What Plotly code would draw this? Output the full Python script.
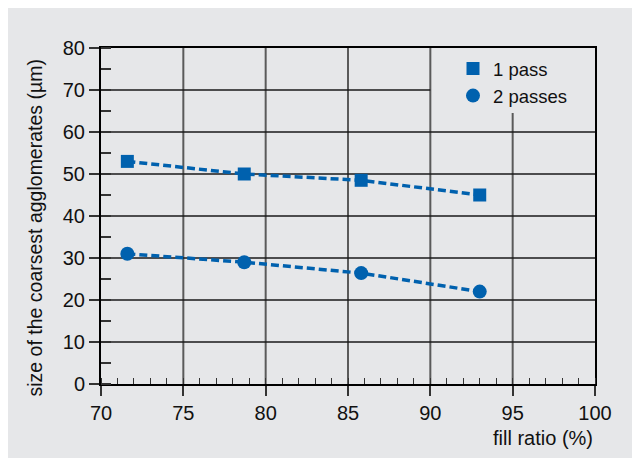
import plotly.graph_objects as go

# ---- data ----
fill_ratio = [71.6, 78.7, 85.8, 93.0]
one_pass = [53.0, 50.0, 48.5, 45.0]
two_passes = [31.0, 29.0, 26.4, 22.0]
x_ticks = [70, 75, 80, 85, 90, 95, 100]
y_ticks = [0, 10, 20, 30, 40, 50, 60, 70, 80]
series_names = ["1 pass", "2 passes"]

BLUE = "#0061ae"
BG = "#e6e7e9"
FONT = "Liberation Sans, Arial, sans-serif"
FS = 20

W, H = 640, 458
L, T = 93, 40
R = W - 587
B = H - 376
pw, ph = W - L - R, H - T - B


def px(x):
    return (x - L) / pw


def py(y):
    return (H - B - y) / ph


fig = go.Figure()
for yvals, name, sym, size in [(one_pass, series_names[0], "square", 13),
                               (two_passes, series_names[1], "circle", 14)]:
    fig.add_trace(go.Scatter(
        x=fill_ratio, y=yvals, name=name, mode="lines+markers", showlegend=False,
        line=dict(color=BLUE, width=3.5, dash="8px,4px"),
        marker=dict(symbol=sym, size=size, color=BLUE)))
    # legend entry with marker only
    fig.add_trace(go.Scatter(
        x=[None], y=[None], name=name, mode="markers",
        marker=dict(symbol=sym, size=size, color=BLUE)))

shapes = []
for xv in x_ticks[1:-1]:
    y_top = 64.5 if xv == 95 else 80
    shapes.append(dict(type="line", xref="x", yref="y", x0=xv, x1=xv, y0=0, y1=y_top,
                       line=dict(color="#5a5a5a", width=2), layer="below"))
for yv in y_ticks[1:-1]:
    x_end = 90 if yv == 70 else 100
    shapes.append(dict(type="line", xref="x", yref="y", x0=70, x1=x_end, y0=yv, y1=yv,
                       line=dict(color="#1a1a1a", width=1.5), layer="below"))

fig.update_layout(
    width=W, height=H,
    margin=dict(l=L, r=R, t=T, b=B),
    paper_bgcolor=BG, plot_bgcolor=BG,
    font=dict(family=FONT, size=FS, color="#111111"),
    shapes=shapes,
    showlegend=True,
    legend=dict(x=px(445), y=py(42), xanchor="left", yanchor="top",
                bgcolor="rgba(0,0,0,0)", font=dict(size=18.5), tracegroupgap=0),
    annotations=[
        dict(text="size of the coarsest agglomerates (µm)", textangle=-90,
             xref="paper", yref="paper", x=px(26), y=py(220.5),
             xanchor="center", yanchor="middle", showarrow=False, font=dict(size=19.5)),
        dict(text="fill ratio (%)", xref="paper", yref="paper", x=1.0, y=py(430),
             xanchor="right", yanchor="middle", showarrow=False, font=dict(size=FS)),
    ],
)
fig.update_xaxes(
    range=[70, 100], tickmode="array", tickvals=x_ticks, ticktext=[str(v) for v in x_ticks],
    showgrid=False, zeroline=False, showline=True, linecolor="black", linewidth=2,
    mirror=True, ticks="outside", ticklen=10, tickwidth=1.5, tickcolor="#333",
    minor=dict(ticks="inside", dtick=1, ticklen=6, tickwidth=1, tickcolor="#333", showgrid=False),
)
fig.update_yaxes(
    range=[0, 80], tickmode="array", tickvals=y_ticks, ticktext=[str(v) for v in y_ticks],
    showgrid=False, zeroline=False, showline=True, linecolor="black", linewidth=2,
    mirror=True, ticks="outside", ticklen=10, tickwidth=1.5, tickcolor="#333",
    minor=dict(ticks="inside", dtick=5, ticklen=10, tickwidth=1.5, tickcolor="#333", showgrid=False),
)

fig.write_html("out.html")
